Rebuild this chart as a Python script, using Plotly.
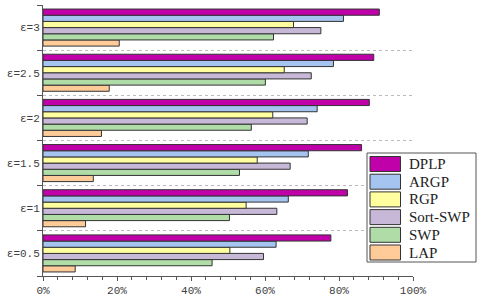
import plotly.graph_objects as go

categories = ["ε=0.5", "ε=1", "ε=1.5", "ε=2", "ε=2.5", "ε=3"]
series_names = ["LAP", "SWP", "Sort-SWP", "RGP", "ARGP", "DPLP"]
LAP = [8.7, 11.5, 13.6, 15.8, 17.9, 20.6]
SWP = [45.7, 50.4, 53.1, 56.3, 60.1, 62.3]
SORT_SWP = [59.6, 63.2, 66.8, 71.4, 72.5, 75.1]
RGP = [50.5, 54.9, 57.9, 62.1, 65.2, 67.7]
ARGP = [63.0, 66.3, 71.7, 74.1, 78.5, 81.2]
DPLP = [77.8, 82.3, 86.1, 88.2, 89.4, 90.9]
series_values = [LAP, SWP, SORT_SWP, RGP, ARGP, DPLP]
x_tick_vals = [0, 20, 40, 60, 80, 100]
x_tick_text = ["0%", "20%", "40%", "60%", "80%", "100%"]

colors = ["#FFCC99", "#B0DCA8", "#C8B8D8", "#FFFFA0", "#A6C4F0", "#C000A8"]

W, H = 480, 301
ML, MR, MT, MB = 43, 67, 5, 25
PW, PH = W - ML - MR, H - MT - MB

fig = go.Figure()
for name, vals, col in zip(series_names, series_values, colors):
    fig.add_trace(go.Bar(
        y=categories, x=vals, name=name, orientation="h",
        marker=dict(color=col, line=dict(color="#333333", width=1)),
        showlegend=False,
    ))

# custom legend (large swatches like the reference)
shapes = []
annotations = []
def px_to_paper_x(px):
    return (px - ML) / PW
def px_to_paper_y(py):
    return (H - MB - py) / PH

shapes.append(dict(type="rect", xref="paper", yref="paper",
                   x0=px_to_paper_x(367), x1=px_to_paper_x(476),
                   y0=px_to_paper_y(262), y1=px_to_paper_y(153),
                   line=dict(color="#555555", width=1), fillcolor="white", layer="above"))
legend_order = list(reversed(range(len(series_names))))
for i, idx in enumerate(legend_order):
    top = 156.5 + i * 17.7
    bot = top + 15
    shapes.append(dict(type="rect", xref="paper", yref="paper",
                       x0=px_to_paper_x(370), x1=px_to_paper_x(400.5),
                       y0=px_to_paper_y(bot), y1=px_to_paper_y(top),
                       line=dict(color="#333333", width=1), fillcolor=colors[idx], layer="above"))
    annotations.append(dict(xref="paper", yref="paper",
                            x=px_to_paper_x(407), y=px_to_paper_y((top + bot) / 2),
                            xanchor="left", yanchor="middle", showarrow=False,
                            text=series_names[idx],
                            font=dict(family="Liberation Serif", size=15, color="#222222")))

fig.update_layout(
    width=W, height=H,
    margin=dict(l=ML, r=MR, t=MT, b=MB, autoexpand=False),
    paper_bgcolor="white", plot_bgcolor="white",
    barmode="group", bargap=0.18, bargroupgap=0,
    showlegend=False,
    shapes=shapes, annotations=annotations,
    font=dict(family="Liberation Mono", size=11, color="#404040"),
)
fig.update_xaxes(
    range=[0, 100], tickvals=x_tick_vals, ticktext=x_tick_text,
    showline=True, linecolor="#555555", linewidth=1,
    ticks="outside", ticklen=4, tickcolor="#555555",
    minor=dict(dtick=4, ticks="outside", ticklen=3, tickcolor="#555555", showgrid=False),
    showgrid=False, zeroline=False, automargin=False,
    tickfont=dict(family="Liberation Mono", size=11, color="#404040"),
)
fig.update_yaxes(
    type="category", categoryorder="array", categoryarray=categories,
    showline=True, linecolor="#555555", linewidth=1,
    ticks="outside", ticklen=5, tickcolor="#555555", tickson="boundaries",
    showgrid=True, gridcolor="#BBBBBB", griddash="dot", gridwidth=1,
    automargin=False,
    tickfont=dict(family="Liberation Mono", size=11, color="#404040"),
)

fig.write_html("out.html", config={"displayModeBar": False},
               post_script="document.body.style.margin='0px';document.body.style.overflow='hidden';")
